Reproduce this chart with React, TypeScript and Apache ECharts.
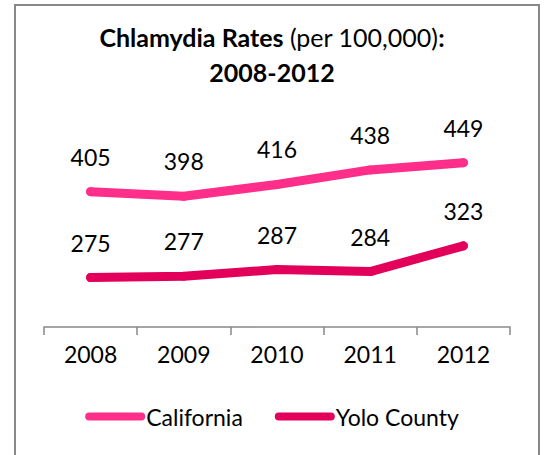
import React, { useEffect, useRef } from "react";
import * as echarts from "echarts";

const years = ["2008", "2009", "2010", "2011", "2012"];
const california = [405, 398, 416, 438, 449];
const yolo = [275, 277, 287, 284, 323];
const seriesNames = ["California", "Yolo County"];

const FONT = "Lato, 'Noto Sans', sans-serif";
const CAPSULE = "path://M4,0 H56 A4,4 0 0 1 56,8 H4 A4,4 0 0 1 4,0 Z";

export default function App() {
  const ref = useRef<HTMLDivElement>(null);
  useEffect(() => {
    if (!ref.current) return;
    const chart = echarts.init(ref.current, null, { renderer: "svg" });
    const label = {
      show: true,
      position: "top",
      distance: 19,
      color: "#000",
      fontFamily: FONT,
      fontSize: 23,
    };
    chart.setOption({
      animation: false,
      backgroundColor: "#fff",
      title: {
        left: "center",
        top: 14,
        text: "{b|Chlamydia Rates} {n|(per 100,000)}{b|:}\n{b|2008-2012}",
        textStyle: {
          fontFamily: FONT,
          fontSize: 25,
          lineHeight: 35,
          color: "#000",
          rich: {
            b: { fontFamily: FONT, fontSize: 25, fontWeight: "bold", color: "#000", lineHeight: 35 },
            n: { fontFamily: FONT, fontSize: 25, fontWeight: "normal", color: "#000", lineHeight: 35 },
          },
        },
      },
      legend: {
        bottom: 22,
        left: "center",
        itemWidth: 60,
        itemHeight: 8,
        itemGap: 32,
        icon: CAPSULE,
        data: seriesNames,
        textStyle: { fontFamily: FONT, fontSize: 23, color: "#000", padding: [0, 0, 0, -4] },
      },
      grid: { left: 44, right: 34, top: 129, bottom: 128 },
      xAxis: {
        type: "category",
        data: years,
        axisLine: { show: true, lineStyle: { color: "#888", width: 1.5 } },
        axisTick: { show: true, length: 8, lineStyle: { color: "#888", width: 1.5 } },
        axisLabel: { color: "#000", fontFamily: FONT, fontSize: 23, margin: 15 },
      },
      yAxis: {
        type: "value",
        min: 200,
        max: 500,
        show: false,
        splitLine: { show: false },
      },
      graphic: [
        {
          type: "rect",
          shape: { x: 15, y: 5, width: 524, height: 480 },
          style: { fill: "none", stroke: "#888", lineWidth: 2 },
          silent: true,
        },
      ],
      series: [
        {
          name: seriesNames[0],
          type: "line",
          data: california,
          symbol: "circle",
          symbolSize: 9,
          showSymbol: true,
          color: "#ff2e8a",
          itemStyle: { color: "#ff2e8a" },
          lineStyle: { width: 9, cap: "round", join: "round", color: "#ff2e8a" },
          label,
        },
        {
          name: seriesNames[1],
          type: "line",
          data: yolo,
          symbol: "circle",
          symbolSize: 9,
          showSymbol: true,
          color: "#e3005a",
          itemStyle: { color: "#e3005a" },
          lineStyle: { width: 9, cap: "round", join: "round", color: "#e3005a" },
          label,
        },
      ],
    });
    return () => chart.dispose();
  }, []);
  return (
    <div
      ref={ref}
      style={{ position: "absolute", left: 0, top: 0, width: 544, height: 455 }}
    />
  );
}
